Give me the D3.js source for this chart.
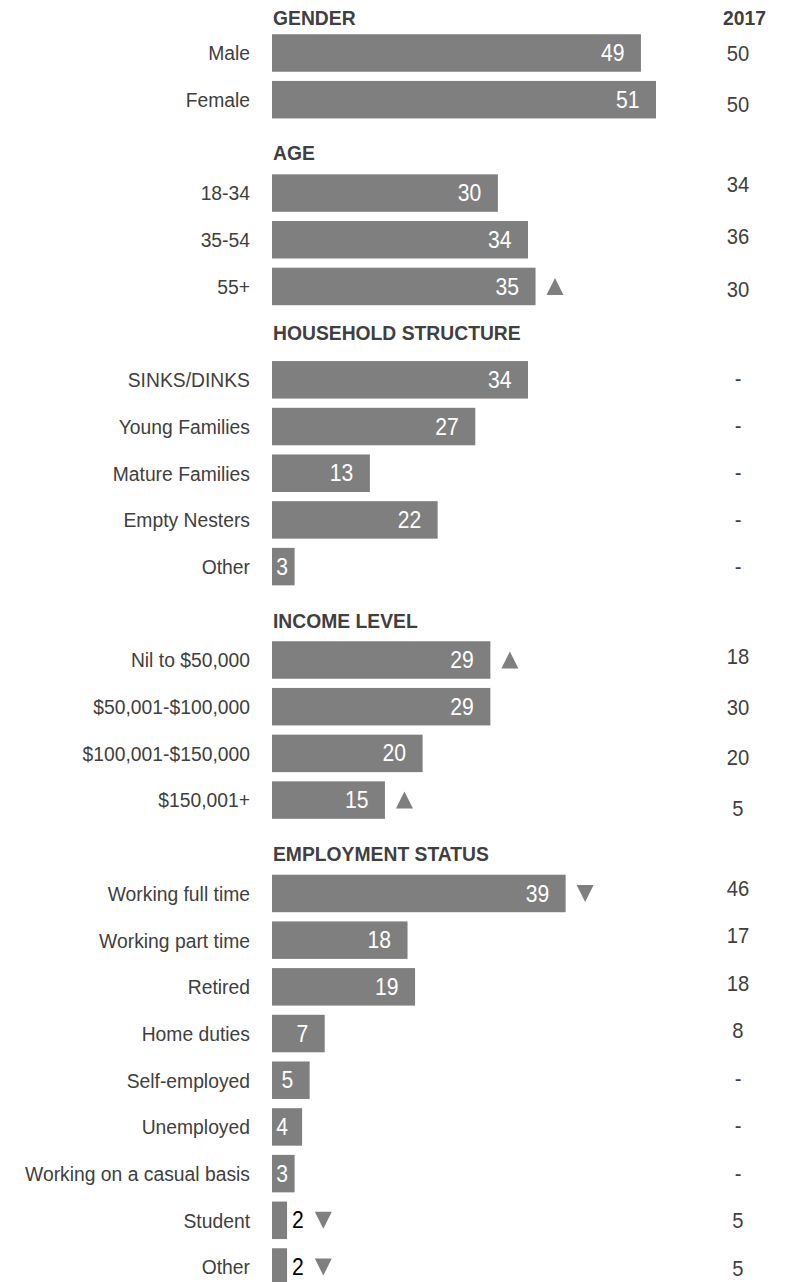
<!DOCTYPE html>
<html>
<head>
<meta charset="utf-8">
<script src="https://cdn.jsdelivr.net/npm/d3@7"></script>
<style>
  body { margin: 0; background: #fff; }
  svg text { font-family: "Liberation Sans", Arial, sans-serif; }
</style>
</head>
<body>
<svg id="chart" width="787" height="1282"></svg>
<script>
// section titles
const sections = ["GENDER", "AGE", "HOUSEHOLD STRUCTURE", "INCOME LEVEL", "EMPLOYMENT STATUS"];

const genderCats = ["Male", "Female"];
const genderVals = [49, 51];
const gender2017 = ["50", "50"];
const genderSig = ["", ""];

const ageCats = ["18-34", "35-54", "55+"];
const ageVals = [30, 34, 35];
const age2017 = ["34", "36", "30"];
const ageSig = ["", "", "up"];

const houseCats = ["SINKS/DINKS", "Young Families", "Mature Families", "Empty Nesters", "Other"];
const houseVals = [34, 27, 13, 22, 3];
const house2017 = ["-", "-", "-", "-", "-"];
const houseSig = ["", "", "", "", ""];

const incomeCats = ["Nil to $50,000", "$50,001-$100,000", "$100,001-$150,000", "$150,001+"];
const incomeVals = [29, 29, 20, 15];
const income2017 = ["18", "30", "20", "5"];
const incomeSig = ["up", "", "", "up"];

const employCats = ["Working full time", "Working part time", "Retired", "Home duties", "Self-employed",
  "Unemployed", "Working on a casual basis", "Student", "Other"];
const employVals = [39, 18, 19, 7, 5, 4, 3, 2, 2];
const employ2017 = ["46", "17", "18", "8", "-", "-", "-", "5", "5"];
const employSig = ["down", "", "", "", "", "", "", "down", "down"];

const groups = [
  { title: sections[0], cats: genderCats, vals: genderVals, prev: gender2017, sig: genderSig },
  { title: sections[1], cats: ageCats, vals: ageVals, prev: age2017, sig: ageSig },
  { title: sections[2], cats: houseCats, vals: houseVals, prev: house2017, sig: houseSig },
  { title: sections[3], cats: incomeCats, vals: incomeVals, prev: income2017, sig: incomeSig },
  { title: sections[4], cats: employCats, vals: employVals, prev: employ2017, sig: employSig }
];

// title baseline offsets and the 2017 column (a separate table, rows don't line up exactly)
const layout = [
  { head: 18.5, shift: 0, pitch: 51 },
  { head: 14, shift: -9, pitch: 52.5 },
  { head: 7, shift: -2, pitch: 47 },
  { head: 14.5, shift: -3.5, pitch: 50.5 },
  { head: 14, shift: -5.5, pitch: 47.5 }
];

const grey = "#7f7f7f";
const textCol = "#404040";
const squeeze = 0.92; // the original uses a narrow face

// flatten into slots: one for each title, one for each bar
const headers = [];
const rows = [];
let slot = 0;
groups.forEach((g, gi) => {
  headers.push({ title: g.title, slot: slot, group: gi });
  slot++;
  g.cats.forEach((c, i) => {
    rows.push({ cat: c, value: g.vals[i], prev: g.prev[i], sig: g.sig[i], slot: slot, group: gi, idx: i });
    slot++;
  });
});

const svg = d3.select("#chart");

const x = d3.scaleLinear().domain([0, 51]).range([272, 656]);
const y = d3.scaleLinear().domain([0, slot - 1]).range([6.3, 1267]);
const barH = 37.5;

const place = (tx, ty) => `translate(${tx},${ty}) scale(${squeeze},1)`;

// section titles
svg.selectAll("text.header")
  .data(headers)
  .enter()
  .append("text")
  .attr("class", "header")
  .attr("transform", d => place(273, y(d.slot) + layout[d.group].head))
  .attr("font-size", 21)
  .attr("font-weight", "bold")
  .attr("fill", textCol)
  .text(d => d.title);

svg.append("text")
  .attr("transform", place(766, 25))
  .attr("text-anchor", "end")
  .attr("font-size", 21)
  .attr("font-weight", "bold")
  .attr("fill", textCol)
  .text("2017");

// category labels
svg.selectAll("text.cat")
  .data(rows)
  .enter()
  .append("text")
  .attr("class", "cat")
  .attr("transform", d => place(250, y(d.slot)))
  .attr("dy", "0.35em")
  .attr("text-anchor", "end")
  .attr("font-size", 21)
  .attr("fill", textCol)
  .text(d => d.cat);

// bars
svg.selectAll("rect.bar")
  .data(rows)
  .enter()
  .append("rect")
  .attr("class", "bar")
  .attr("x", x(0))
  .attr("y", d => y(d.slot) - barH / 2)
  .attr("width", d => x(d.value) - x(0))
  .attr("height", barH)
  .attr("fill", grey);

// value labels, white inside the bar, black outside for the tiny ones
const valLabels = svg.selectAll("text.val")
  .data(rows)
  .enter()
  .append("text")
  .attr("class", "val")
  .attr("dy", "0.35em")
  .attr("font-size", 23)
  .text(d => d.value);

valLabels.each(function(d) {
  const t = d3.select(this);
  const w = this.getComputedTextLength() * squeeze;
  if (d.value <= 2) {
    t.attr("transform", place(x(d.value) + 5, y(d.slot))).attr("text-anchor", "start").attr("fill", "#000");
    d.labelEnd = x(d.value) + 5 + w;
  } else {
    t.attr("transform", place(Math.max(x(d.value) - 16.5, x(0) + 16), y(d.slot)))
      .attr("text-anchor", "end").attr("fill", "#fff");
    d.labelEnd = x(d.value);
  }
});

// significance triangles
const tri = 17;
svg.selectAll("path.sig")
  .data(rows.filter(d => d.sig))
  .enter()
  .append("path")
  .attr("class", "sig")
  .attr("transform", d => `translate(${d.labelEnd + 11 + tri / 2},${y(d.slot)})`)
  .attr("d", d => d.sig === "up"
    ? `M${-tri / 2},${tri / 2}L${tri / 2},${tri / 2}L0,${-tri / 2}Z`
    : `M${-tri / 2},${-tri / 2}L${tri / 2},${-tri / 2}L0,${tri / 2}Z`)
  .attr("fill", grey);

// 2017 column
svg.selectAll("text.prev")
  .data(rows)
  .enter()
  .append("text")
  .attr("class", "prev")
  .attr("transform", d => {
    const first = rows.find(r => r.group === d.group);
    const l = layout[d.group];
    return place(738, y(first.slot) + l.shift + d.idx * l.pitch);
  })
  .attr("dy", "0.35em")
  .attr("text-anchor", "middle")
  .attr("font-size", 22)
  .attr("fill", textCol)
  .text(d => d.prev);
</script>
</body>
</html>
